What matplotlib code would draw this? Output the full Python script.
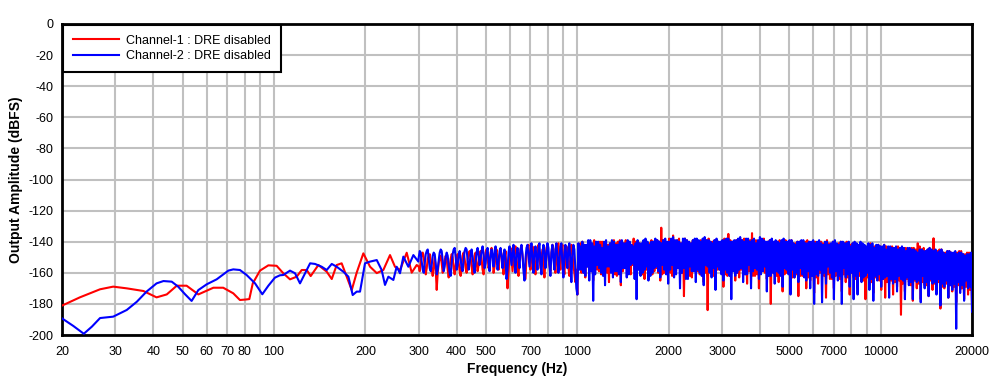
import numpy as np
import matplotlib
matplotlib.use("Agg")
import matplotlib.pyplot as plt
from matplotlib.ticker import FixedLocator, FixedFormatter

# ---------------- data ----------------
# Low-frequency part, Channel-1 (red)
red_low_f = [20, 22.9, 26.7, 29.5, 32.7, 37.1, 41.0, 44.3, 47.8, 51.5, 56.3, 63.1, 68.0,
             73.4, 77.2, 80.5, 82.9, 85.1, 89.9, 95.8, 102, 107.3, 112.9, 118.8, 123.4,
             128.2, 132.1, 140, 149.2, 155, 160.9, 167.1, 173.6, 180.4, 187.3, 197, 207.3,
             218.1, 229.3, 241.2, 250.5, 260.2, 273.8, 284.4, 295.4]
red_low_v = [-181.1, -175.8, -170.6, -168.9, -170.0, -171.7, -175.8, -173.9, -168.3, -168.3,
             -173.9, -169.6, -169.6, -173.2, -177.5, -177.2, -176.9, -166.8, -158.6, -155.2,
             -155.5, -160.3, -164.2, -162.5, -158.2, -158.2, -162.1, -155.0, -159.3, -164.0,
             -155.0, -153.9, -162.5, -171.1, -159.9, -147.5, -156.1, -160.2, -158.2, -148.6,
             -156.1, -158.2, -147.1, -159.9, -155.0]

# Low-frequency part, Channel-2 (blue)
blue_low_f = [20, 21.8, 23.6, 25.1, 26.7, 29.5, 32.7, 35.3, 38.0, 41.0, 43.2, 46.0, 48.3,
              50.9, 53.5, 56.3, 60.0, 64.7, 70.7, 73.4, 77.2, 81.2, 86.6, 91.5, 95.8, 100.7,
              104.6, 107.3, 112.9, 117.3, 121.8, 126.6, 131.5, 136.5, 143.6, 149.2, 155,
              160.9, 169.3, 175.9, 181.7, 187.3, 192.1, 199.5, 207.3, 218.1, 226.4, 232.2,
              238.2, 247.4, 253.7, 260.2, 266.9, 277.2, 288, 299.1]
blue_low_v = [-189.3, -194.2, -199.2, -194.6, -189.1, -188.2, -183.9, -178.6, -172.1, -166.8,
              -165.3, -165.7, -168.9, -173.8, -178.1, -171.1, -167.4, -164.2, -158.6, -157.8,
              -158.2, -161.4, -166.8, -173.8, -168.3, -163.1, -161.6, -161.4, -158.6, -160.3,
              -166.8, -160.3, -153.9, -154.3, -156.1, -158.2, -154.3, -156.1, -159.3, -162.5,
              -174.3, -172.1, -172.1, -153.9, -152.8, -151.8, -158.2, -167.8, -162.5, -164.6,
              -156.1, -160.3, -149.6, -156.1, -148.6, -152.8]

# Mid band (300 Hz - 1 kHz), FFT bins
mid_range = (300, 1000)
red_mid_v = [
    -156, -159, -153, -148, -147, -150, -156, -161, -157, -151, -149, -148, -153, -158, -162, -156, -150, -158, -171, -160,
    -154, -150, -149, -154, -160, -157, -152, -149, -151, -158, -163, -156, -151, -148, -150, -157, -161, -155, -150, -148,
    -153, -159, -162, -154, -149, -147, -151, -157, -160, -152, -148, -146, -150, -156, -161, -155, -149, -147, -153, -159,
    -155, -149, -146, -151, -158, -161, -152, -147, -145, -150, -157, -153, -147, -144, -149, -160, -156, -148, -145, -152,
    -158, -150, -145, -148, -155, -161, -151, -146, -158, -170, -160, -148, -144, -151, -159, -152, -145, -143, -150, -157,
    -162, -151, -145, -143, -149, -156, -160, -164, -150, -144, -142, -152, -158, -148, -143, -147, -155, -161, -150, -144,
    -142, -150, -157, -151, -145, -156, -163, -152, -144, -142, -149, -155, -159, -147, -142, -145, -153, -160, -150, -143,
    -141, -151, -158, -146, -142, -155, -161, -150, -143, -147, -156, -162, -149, -142, -146, -155, -160, -166, -158, -174]
blue_mid_v = [
    -150, -146, -147, -153, -158, -160, -154, -148, -146, -145, -151, -157, -159, -155, -149, -147, -148, -154, -161, -158,
    -152, -147, -145, -146, -152, -159, -156, -150, -147, -149, -155, -160, -162, -154, -148, -145, -144, -150, -158, -155,
    -149, -146, -151, -157, -159, -152, -146, -144, -145, -152, -158, -154, -148, -145, -150, -156, -160, -153, -147, -144,
    -149, -155, -151, -146, -143, -148, -157, -154, -147, -144, -152, -159, -150, -145, -149, -156, -146, -143, -151, -158,
    -153, -146, -144, -150, -157, -149, -145, -152, -164, -158, -147, -143, -149, -155, -146, -142, -153, -160, -148, -144,
    -150, -157, -145, -142, -148, -159, -165, -151, -144, -142, -149, -156, -146, -141, -152, -160, -147, -143, -150, -158,
    -145, -141, -153, -161, -148, -142, -146, -157, -150, -141, -144, -155, -162, -147, -142, -151, -158, -145, -141, -149,
    -160, -152, -143, -141, -154, -163, -148, -142, -150, -157, -144, -141, -152, -166, -149, -142, -145, -158, -170, -174]

# High band (1 kHz - 20 kHz)
high_range = (1008, 20000)
red_high_v = [
    -142, -157, -141, -160, -140, -160, -142, -163, -143, -156, -140, -157, -141, -159, -143, -165, -139, -158, -141, -158,
    -142, -159, -140, -161, -140, -157, -141, -156, -143, -160, -142, -166, -141, -158, -140, -159, -139, -161, -141, -162,
    -140, -160, -139, -168, -142, -159, -141, -157, -139, -157, -140, -160, -141, -161, -142, -155, -138, -158, -140, -163,
    -140, -157, -141, -159, -142, -161, -140, -164, -139, -158, -141, -158, -141, -160, -139, -161, -140, -159, -142, -157,
    -139, -160, -140, -165, -131, -161, -139, -160, -140, -157, -141, -158, -138, -160, -140, -162, -136, -158, -140, -159,
    -139, -157, -138, -156, -141, -160, -140, -175, -138, -159, -139, -160, -140, -162, -141, -163, -139, -156, -140, -158,
    -141, -159, -140, -161, -139, -161, -141, -166, -140, -160, -139, -184, -138, -157, -140, -160, -140, -162, -139, -164,
    -139, -158, -140, -158, -141, -160, -139, -169, -138, -161, -140, -162, -135, -159, -139, -159, -140, -157, -141, -165,
    -139, -160, -140, -163, -141, -158, -139, -158, -138, -161, -140, -167, -140, -159, -139, -160, -134.5, -162, -140, -162,
    -139, -161, -140, -170, -141, -158, -139, -159, -138, -160, -140, -164, -140, -162, -139, -180, -139, -159, -141, -161,
    -141, -162, -140, -166, -139, -159, -141, -172, -140, -161, -139, -160, -142, -160, -140, -168, -139, -163, -141, -163,
    -141, -161, -140, -175, -140, -162, -141, -162, -142, -159, -140, -170, -139, -163, -141, -165, -141, -160, -140, -173,
    -140, -163, -141, -167, -142, -160, -140, -162, -141, -162, -142, -176, -139, -161, -141, -164, -142, -164, -140, -170,
    -140, -162, -142, -161, -141, -164, -140, -172, -143, -161, -141, -166, -140, -163, -142, -174, -142, -160, -141, -163,
    -141, -164, -142, -170, -143, -162, -141, -165, -142, -165, -143, -177, -144, -163, -142, -168, -141, -166, -143, -173,
    -143, -163, -144, -164, -142, -165, -143, -171, -144, -164, -142, -176, -143, -166, -144, -167, -145, -165, -143, -174,
    -144, -166, -145, -169, -143, -165, -144, -187, -145, -167, -144, -172, -144, -164, -145, -166, -146, -168, -144, -178,
    -144, -165, -145, -170, -141, -167, -143, -177, -145, -166, -144, -168, -146, -168, -145, -175, -144, -165, -146, -171,
    -137.8, -167, -146, -173, -146, -166, -145, -183, -145, -169, -147, -170, -147, -167, -146, -176, -146, -168, -147, -172,
    -148, -169, -147, -179, -147, -168, -146, -171, -146, -170, -148, -177, -148, -169, -147, -174, -147, -171, -148, -180]
blue_high_v = [
    -141, -158, -143, -158, -140, -160, -142, -162, -142, -156, -139, -165, -139, -159, -141, -178, -143, -161, -140, -155,
    -140, -157, -142, -160, -144, -162, -140, -168, -139, -156, -143, -156, -141, -160, -139, -163, -140, -159, -142, -159,
    -142, -161, -140, -166, -139, -157, -141, -157, -141, -163, -139, -161, -140, -155, -142, -154, -143, -164, -141, -177,
    -139, -158, -141, -162, -141, -160, -139, -158, -138, -156, -140, -165, -142, -162, -140, -160, -140, -157, -138, -156,
    -139, -159, -140, -163, -141, -155, -139, -158, -138, -161, -140, -167, -140, -158, -138, -155, -137, -163, -139, -161,
    -139, -157, -140, -170, -141, -160, -138, -157, -138, -164, -139, -164, -140, -156, -141, -159, -139, -159, -138, -166,
    -138, -158, -139, -160, -140, -162, -138, -168, -137, -155, -139, -156, -139, -160, -140, -163, -141, -157, -139, -171,
    -138, -156, -140, -158, -140, -161, -139, -165, -139, -158, -138, -160, -138, -162, -140, -177, -140, -159, -139, -162,
    -139, -160, -138, -158, -137, -157, -139, -166, -140, -161, -138, -161, -138, -155, -140, -170, -139, -159, -138, -157,
    -141, -158, -139, -164, -137, -161, -138, -159, -139, -156, -140, -172, -140, -162, -139, -162, -138, -160, -140, -167,
    -139, -159, -140, -160, -141, -162, -139, -169, -138, -157, -140, -158, -140, -161, -139, -174, -139, -158, -141, -163,
    -142, -160, -140, -166, -140, -157, -139, -161, -139, -163, -141, -165, -141, -159, -140, -170, -140, -162, -139, -180,
    -141, -161, -140, -162, -139, -158, -141, -179, -142, -160, -140, -167, -140, -156, -142, -160, -141, -163, -140, -177,
    -139, -159, -141, -165, -142, -162, -140, -180, -140, -157, -141, -163, -141, -161, -140, -169, -143, -160, -141, -177,
    -140, -162, -141, -174, -142, -159, -140, -166, -141, -163, -142, -162, -143, -160, -141, -171, -142, -164, -141, -178,
    -144, -162, -142, -165, -142, -161, -143, -169, -143, -164, -142, -163, -145, -162, -143, -176, -143, -164, -144, -167,
    -144, -164, -143, -172, -145, -162, -144, -164, -143, -165, -144, -177, -146, -163, -144, -168, -144, -166, -145, -177,
    -145, -164, -146, -166, -147, -165, -145, -179, -145, -162, -146, -170, -146, -166, -145, -175, -144, -164, -145, -167,
    -146, -166, -145, -174, -147, -164, -146, -181, -145, -167, -147, -169, -148, -165, -146, -176, -146, -168, -147, -171,
    -147, -167, -146, -196, -148, -166, -147, -173, -147, -168, -148, -178, -149, -165, -148, -170, -148, -169, -147, -185]

labels = ["Channel-1 : DRE disabled", "Channel-2 : DRE disabled"]
colors = ["#ff0000", "#0000ff"]

xtick_pos = [20, 30, 40, 50, 60, 70, 80, 90, 100, 200, 300, 400, 500, 600, 700, 800, 900,
             1000, 2000, 3000, 4000, 5000, 6000, 7000, 8000, 9000, 10000, 20000]
xtick_lab = ["20", "30", "40", "50", "60", "70", "80", "", "100", "200", "300", "400", "500",
             "", "700", "", "", "1000", "2000", "3000", "", "5000", "", "7000", "", "",
             "10000", "20000"]
ytick_pos = list(range(-200, 1, 20))

# ---------------- plot ----------------
plt.rcParams['font.family'] = ['Liberation Sans', 'DejaVu Sans']

fig = plt.figure(figsize=(10.06, 3.87), dpi=100)
ax = fig.add_axes([62 / 1006, 1 - 335 / 387, 910 / 1006, 311 / 387])

def series(low_f, low_v, mid_v, high_v):
    f = list(low_f) + list(np.geomspace(*mid_range, len(mid_v))) + \
        list(np.geomspace(*high_range, len(high_v)))
    v = list(low_v) + list(mid_v) + list(high_v)
    return f, v

rf, rv = series(red_low_f, red_low_v, red_mid_v, red_high_v)
bf, bv = series(blue_low_f, blue_low_v, blue_mid_v, blue_high_v)

ax.plot(rf, rv, color=colors[0], lw=1.5, label=labels[0], zorder=3)
ax.plot(bf, bv, color=colors[1], lw=1.5, label=labels[1], zorder=4)

ax.set_xscale('log')
ax.set_xlim(20, 20000)
ax.set_ylim(-200, 0)
ax.xaxis.set_major_locator(FixedLocator(xtick_pos))
ax.xaxis.set_major_formatter(FixedFormatter(xtick_lab))
ax.xaxis.set_minor_locator(FixedLocator([]))
ax.set_yticks(ytick_pos)
ax.set_yticklabels([str(t) for t in ytick_pos])
ax.tick_params(axis='both', length=0, labelsize=9, colors='black')
ax.tick_params(axis='x', pad=8)
ax.tick_params(axis='y', pad=6)
ax.grid(True, which='major', color='#c0c0c0', lw=1.5)
ax.set_axisbelow(True)
for s in ax.spines.values():
    s.set_linewidth(2)
    s.set_color('black')

ax.set_xlabel("Frequency (Hz)", fontsize=10, fontweight='bold', labelpad=3)
ax.set_ylabel("Output Amplitude (dBFS)", fontsize=10, fontweight='bold', labelpad=4)

leg = ax.legend(loc='upper left', bbox_to_anchor=(0, 1), borderaxespad=0.1,
                fontsize=9, frameon=True, fancybox=False, framealpha=1,
                edgecolor='black', handlelength=3.7, handletextpad=0.6,
                borderpad=0.75, labelspacing=0.3)
leg.get_frame().set_linewidth(1.5)
leg.set_zorder(10)

fig.savefig("out.png", dpi=100)
